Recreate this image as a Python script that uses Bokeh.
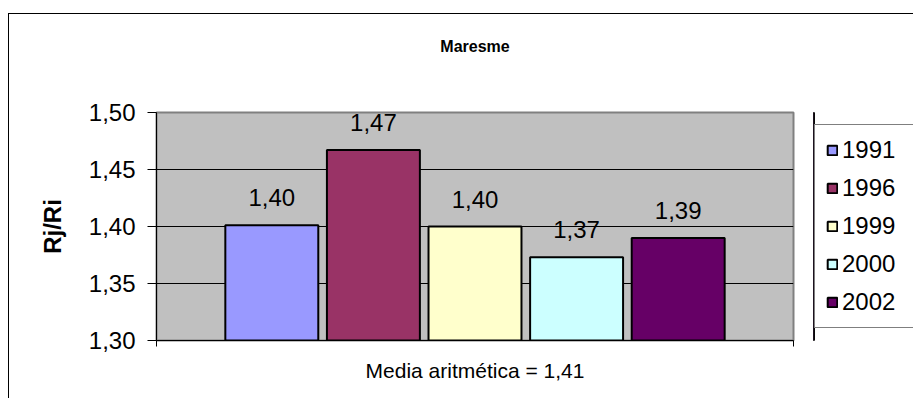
from bokeh.plotting import figure
from bokeh.layouts import row
from bokeh.models import (ColumnDataSource, LabelSet, FixedTicker, LinearAxis,
                          CustomJSTickFormatter, Range1d, Legend, LegendItem)
from bokeh.core.properties import value
from bokeh.embed import file_html
from bokeh.resources import INLINE

# ---- data ----
years = ["1991", "1996", "1999", "2000", "2002"]
values = [1.401, 1.467, 1.400, 1.373, 1.390]
colors = ["#9999FF", "#993366", "#FFFFCC", "#CCFFFF", "#660066"]
y_ticks = [1.30, 1.35, 1.40, 1.45, 1.50]
title_text = "Maresme"
y_label = "Rj/Ri"
mean_value = sum(values) / len(values)
x_label = "Media aritmética = " + f"{mean_value:.2f}".replace(".", ",")

FONT = "Liberation Sans"

idx = list(range(len(years)))
src = ColumnDataSource(dict(
    x=idx, top=values, year=years, color=colors,
    label=[f"{v:.2f}".replace(".", ",") for v in values],
))

x_start, x_end = -1.135, len(years) - 1 + 1.135
p = figure(width=804, height=384, output_backend="svg", toolbar_location=None,
           x_range=Range1d(x_start, x_end), y_range=Range1d(y_ticks[0], y_ticks[-1]),
           min_border_left=147, min_border_right=20, min_border_top=98,
           min_border_bottom=58)
p.title_location = None

p.background_fill_color = "#C0C0C0"
p.border_fill_color = "white"
p.outline_line_color = "#808080"
p.outline_line_width = 2

p.vbar(x="x", top="top", bottom=y_ticks[0], width=0.915, fill_color="color",
       line_color="black", line_width=2, source=src)

# y axis
yax = p.yaxis[0]
yax.ticker = FixedTicker(ticks=y_ticks)
yax.formatter = CustomJSTickFormatter(code="return tick.toFixed(2).replace('.', ',');")
yax.minor_tick_line_color = None
yax.major_tick_in = 0
yax.major_tick_out = 9
yax.major_tick_line_color = "black"
yax.axis_line_color = "black"
yax.major_label_text_font = FONT
yax.major_label_text_font_size = "24px"
yax.major_label_text_color = "black"
yax.major_label_standoff = 12
yax.axis_label = y_label
yax.axis_label_text_font = FONT
yax.axis_label_text_font_size = "24px"
yax.axis_label_text_font_style = "bold"
yax.axis_label_text_color = "black"
yax.axis_label_standoff = 20

# x axis (bottom)
xax = p.xaxis[0]
xax.ticker = FixedTicker(ticks=[x_start, x_end])
xax.formatter = CustomJSTickFormatter(code="return '';")
xax.minor_tick_line_color = None
xax.major_tick_in = 0
xax.major_tick_out = 6
xax.major_label_standoff = 0
xax.major_tick_line_color = "black"
xax.axis_line_color = "black"
xax.axis_label = x_label
xax.axis_label_text_font = FONT
xax.axis_label_text_font_size = "21px"
xax.axis_label_text_font_style = "normal"
xax.axis_label_text_color = "black"
xax.axis_label_standoff = 12

# chart title, drawn as the label of an invisible top axis
title_axis = LinearAxis(ticker=FixedTicker(ticks=[]), axis_line_color=None,
                        major_tick_line_color=None, minor_tick_line_color=None,
                        major_tick_in=0, major_tick_out=0, minor_tick_out=0,
                        major_label_standoff=0, axis_label=title_text,
                        axis_label_standoff=58, axis_label_text_font=FONT,
                        axis_label_text_font_size="16px",
                        axis_label_text_font_style="bold",
                        axis_label_text_color="black")
p.add_layout(title_axis, "above")

p.xgrid.grid_line_color = None
p.ygrid.ticker = FixedTicker(ticks=y_ticks)
p.ygrid.grid_line_color = "black"
p.ygrid.grid_line_width = 1

# data labels
labels = LabelSet(x="x", y="top", text="label", source=src, y_offset=19,
                  text_align="center", text_baseline="alphabetic",
                  text_font=value(FONT), text_font_size=value("24px"),
                  text_color="black")
p.add_layout(labels)

# ---- legend panel (separate figure to the right, frame aligned with p) ----
lf = figure(width=100, height=384, output_backend="svg", toolbar_location=None,
            x_range=Range1d(100, 101), y_range=Range1d(0, 1),
            x_axis_type=None, y_axis_type=None,
            min_border_left=0, min_border_right=0, min_border_top=98,
            min_border_bottom=58)
lf.title_location = None
lf.outline_line_color = None
lf.background_fill_color = "white"
lf.border_fill_color = "white"
lf.grid.grid_line_color = None
lr = lf.vbar(x="x", top="top", bottom=0, width=0.915, fill_color="color",
             line_color="black", line_width=2, source=src)

items = [LegendItem(label=yr, renderers=[lr], index=i) for i, yr in enumerate(years)]
legend = Legend(items=items, location=(1, 12))
legend.label_text_font = FONT
legend.label_text_font_size = "24px"
legend.label_text_color = "black"
legend.glyph_width = 12
legend.glyph_height = 12
legend.label_height = 28
legend.label_width = 62
legend.label_standoff = 4
legend.spacing = 10
legend.padding = 11
legend.margin = 0
legend.border_line_color = "black"
legend.border_line_width = 1
legend.background_fill_color = "white"
legend.background_fill_alpha = 1
lf.add_layout(legend)

layout = row(p, lf)
layout.styles = {"border-left": "1px solid #000000", "border-top": "1px solid #000000",
                 "margin-top": "13px", "margin-left": "8px"}

open("out.html", "w").write(file_html(layout, INLINE))
